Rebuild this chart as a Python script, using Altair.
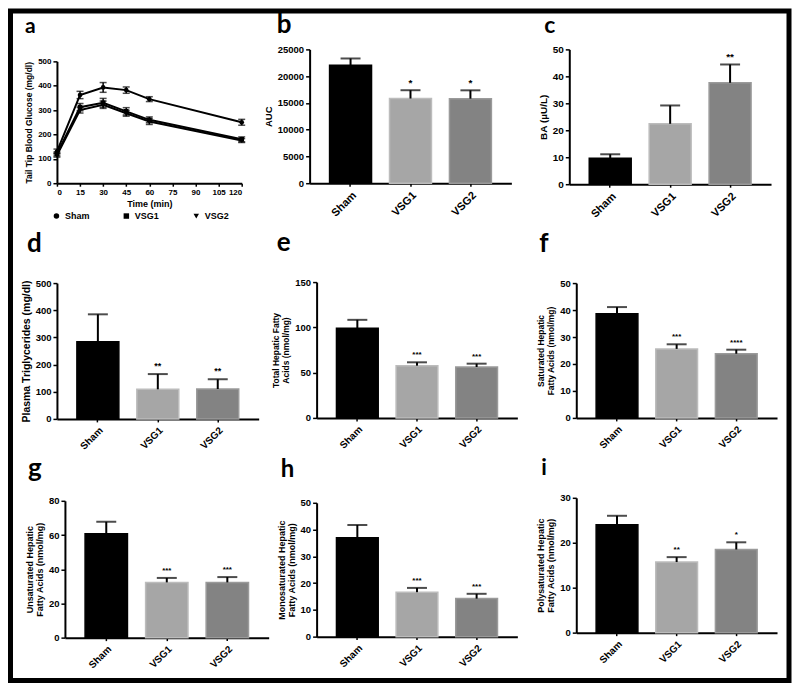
import altair as alt
import pandas as pd

# ---------------- data ----------------
groups = ["Sham", "VSG1", "VSG2"]

time_min = [0, 15, 30, 45, 60, 120]
glu_sham = [130, 362, 393, 382, 345, 250]
glu_sham_err = [10, 15, 20, 13, 10, 12]
glu_vsg1 = [120, 312, 330, 295, 260, 180]
glu_vsg1_err = [8, 15, 18, 15, 12, 10]
glu_vsg2 = [115, 300, 322, 287, 253, 175]
glu_vsg2_err = [8, 12, 15, 12, 12, 8]

auc_mean = [22050, 15820, 15800]
auc_err = [1250, 1550, 1550]
auc_sig = ["", "*", "*"]

ba_mean = [9.6, 22.4, 37.6]
ba_err = [1.5, 6.8, 6.8]
ba_sig = ["", "", "**"]

tg_mean = [284, 109, 110]
tg_err = [101, 56, 36]
tg_sig = ["", "**", "**"]

tfa_mean = [99.1, 57.7, 56.2]
tfa_err = [9.2, 3.7, 3.7]
tfa_sig = ["", "***", "***"]

sfa_mean = [38.6, 25.6, 23.8]
sfa_err = [2.5, 1.7, 1.5]
sfa_sig = ["", "***", "****"]

ufa_mean = [60.7, 32.3, 32.3]
ufa_err = [7.0, 2.6, 3.1]
ufa_sig = ["", "***", "***"]

mufa_mean = [36.9, 16.6, 14.2]
mufa_err = [4.8, 1.6, 1.8]
mufa_sig = ["", "***", "***"]

pufa_mean = [24.0, 15.7, 18.5]
pufa_err = [2.0, 1.1, 1.6]
pufa_sig = ["", "**", "*"]

panel_letters = ["a", "b", "c", "d", "e", "f", "g", "h", "i"]

# ---------------- styles / layout ----------------
FONT = "Liberation Sans"
LETTER_FONT = "Lato"
bar_fill = ["#000000", "#a6a6a6", "#838383"]
bar_edge = ["#000000", "#bcbcbc", "#9a9a9a"]
shapes = ["circle", "square", "triangle-down"]

CELL_W, CELL_H = 217, 160
COL_X = [50, 310, 570]
ROW_Y = [49, 264, 479]

# page geometry per panel: x0 (y-axis x), w (x-axis length), yt (top), yz (zero)
geo = {
    "a": dict(col=0, row=0, x0=57, w=185, yt=61, yz=183, lx=-25, ly=-16, ls=21),
    "b": dict(col=1, row=0, x0=310, w=202, yt=49, yz=183, lx=-33, ly=-16, ls=26),
    "c": dict(col=2, row=0, x0=570, w=202, yt=49, yz=184, lx=-25, ly=-16, ls=23),
    "d": dict(col=0, row=1, x0=57, w=202, yt=283, yz=419, lx=-23, ly=-12, ls=26),
    "e": dict(col=1, row=1, x0=317, w=201, yt=282, yz=418, lx=-33, ly=-13, ls=26),
    "f": dict(col=2, row=1, x0=577, w=201, yt=283, yz=418, lx=-30, ly=-12, ls=26),
    "g": dict(col=0, row=2, x0=65, w=204, yt=501, yz=638, lx=-22, ly=-2, ls=26),
    "h": dict(col=1, row=2, x0=317, w=201, yt=503, yz=637, lx=-29, ly=-2, ls=24),
    "i": dict(col=2, row=2, x0=577, w=201, yt=498, yz=633, lx=-28, ly=-4, ls=22),
}


def geom(key):
    g = geo[key]
    cx, cy = COL_X[g["col"]], ROW_Y[g["row"]]
    xr = [g["x0"] - cx, g["x0"] - cx + g["w"]]
    yr = [g["yz"] - cy, g["yt"] - cy]
    yoff = -(g["x0"] - cx)
    xoff = -(CELL_H - (g["yz"] - cy))
    return xr, yr, yoff, xoff


def letter_layer(key):
    g = geo[key]
    df = pd.DataFrame({"letter": [key]})
    return alt.Chart(df).mark_text(
        align="left", baseline="alphabetic", font=LETTER_FONT,
        fontWeight="bold", fontSize=g["ls"], color="black"
    ).encode(x=alt.value(g["lx"]), y=alt.value(g["ly"]), text="letter:N")


def bar_panel(key, mean, err, sig, ymax, ticks, title,
              lab=9.5, tit=9, xlab=10, star=8, star_dy=-5, title_lh=10):
    xr, yr, yoff, xoff = geom(key)
    df = pd.DataFrame({
        "group": groups,
        "mean": mean,
        "top": [m + e for m, e in zip(mean, err)],
        "sig": sig,
    })
    xenc = alt.X(
        "group:N", sort=groups,
        scale=alt.Scale(domain=groups, range=xr, paddingInner=0.3, paddingOuter=0.333),
        axis=alt.Axis(title=None, labelAngle=-45, labelFontSize=xlab, offset=xoff,
                      tickSize=3, labelPadding=3),
    )
    yscale = alt.Scale(domain=[0, ymax], range=yr, nice=False, zero=True)
    yaxis = alt.Axis(values=ticks, title=title, offset=yoff, labelFontSize=lab,
                     titleFontSize=tit, titleLineHeight=title_lh, format="d")
    base = alt.Chart(df)
    bars = base.mark_bar(strokeWidth=1.5).encode(
        x=xenc,
        y=alt.Y("mean:Q", scale=yscale, axis=yaxis, title=title),
        color=alt.Color("group:N", scale=alt.Scale(domain=groups, range=bar_fill), legend=None),
        stroke=alt.Stroke("group:N", scale=alt.Scale(domain=groups, range=bar_edge), legend=None),
    )
    rule = base.mark_rule(color="black", strokeWidth=2).encode(
        x=xenc,
        y=alt.Y("mean:Q", scale=yscale, axis=yaxis, title=title),
        y2="top:Q",
    )
    cap = base.mark_tick(orient="horizontal", color="black", size=20, thickness=2).encode(
        x=xenc,
        y=alt.Y("top:Q", scale=yscale, axis=yaxis, title=title),
    )
    stars = base.mark_text(baseline="alphabetic", dy=star_dy, fontSize=star,
                           font=FONT, fontWeight="bold", color="black").encode(
        x=xenc,
        y=alt.Y("top:Q", scale=yscale, axis=yaxis, title=title),
        text="sig:N",
    )
    return alt.layer(bars, rule, cap, stars, letter_layer(key)).properties(
        width=CELL_W, height=CELL_H)


# ---------------- panel a (line chart) ----------------
def line_panel():
    key = "a"
    xr, yr, yoff, xoff = geom(key)
    rows = []
    for grp, vals, errs in [("Sham", glu_sham, glu_sham_err),
                            ("VSG1", glu_vsg1, glu_vsg1_err),
                            ("VSG2", glu_vsg2, glu_vsg2_err)]:
        for t, v, e in zip(time_min, vals, errs):
            rows.append({"time": t, "group": grp, "mean": v, "lo": v - e, "hi": v + e})
    df = pd.DataFrame(rows)
    title = "Tail Tip Blood Glucose (mg/dl)"
    xenc = alt.X("time:Q",
                 scale=alt.Scale(domain=[0, 120], range=xr, nice=False),
                 axis=alt.Axis(values=time_min[:0] + [0, 15, 30, 45, 60, 75, 90, 105, 120],
                               title="Time (min)", offset=xoff, labelFontSize=8,
                               titleFontSize=9, tickSize=3, labelPadding=2, titlePadding=3))
    yscale = alt.Scale(domain=[0, 500], range=yr, nice=False)
    yaxis = alt.Axis(values=[0, 100, 200, 300, 400, 500], title=title, offset=yoff,
                     labelFontSize=8, titleFontSize=8.5, format="d")
    base = alt.Chart(df)
    err = base.mark_rule(color="black", strokeWidth=1.5).encode(
        x=xenc, y=alt.Y("lo:Q", scale=yscale, axis=yaxis, title=title), y2="hi:Q")
    cap_lo = base.mark_tick(orient="horizontal", color="black", size=7, thickness=1.5).encode(
        x=xenc, y=alt.Y("lo:Q", scale=yscale, axis=yaxis, title=title))
    cap_hi = base.mark_tick(orient="horizontal", color="black", size=7, thickness=1.5).encode(
        x=xenc, y=alt.Y("hi:Q", scale=yscale, axis=yaxis, title=title))
    line = base.mark_line(color="black", strokeWidth=2).encode(
        x=xenc, y=alt.Y("mean:Q", scale=yscale, axis=yaxis, title=title),
        detail="group:N")
    pts = base.mark_point(filled=True, color="black", size=22, opacity=1).encode(
        x=xenc, y=alt.Y("mean:Q", scale=yscale, axis=yaxis, title=title),
        shape=alt.Shape("group:N", sort=groups,
                        scale=alt.Scale(domain=groups, range=shapes),
                        legend=alt.Legend(title=None, orient="none", legendX=2, legendY=162,
                                          direction="horizontal", columnPadding=30,
                                          labelFont=FONT, labelFontWeight="bold",
                                          labelFontSize=9, symbolSize=30,
                                          symbolFillColor="black", symbolStrokeColor="black",
                                          labelColor="black")))
    border = alt.Chart(pd.DataFrame({"frame": [0]})).mark_rect(
        fillOpacity=0, stroke="black", strokeWidth=5
    ).encode(x=alt.value(-39.5), x2=alt.value(740), y=alt.value(-38.5), y2=alt.value(632))
    return alt.layer(err, cap_lo, cap_hi, line, pts, letter_layer(key), border).properties(
        width=CELL_W, height=CELL_H)


panels = [
    line_panel(),
    bar_panel("b", auc_mean, auc_err, auc_sig, 25000, [0, 5000, 10000, 15000, 20000, 25000],
              "AUC", lab=9.5, tit=9.5, xlab=11, star=10, star_dy=-4),
    bar_panel("c", ba_mean, ba_err, ba_sig, 50, [0, 10, 20, 30, 40, 50],
              "BA (µU/L)", lab=10, tit=10, xlab=11, star=10, star_dy=-4),
    bar_panel("d", tg_mean, tg_err, tg_sig, 500, [0, 100, 200, 300, 400, 500],
              "Plasma Triglycerides (mg/dl)", lab=9.5, tit=10.5, xlab=10, star=9),
    bar_panel("e", tfa_mean, tfa_err, tfa_sig, 150, [0, 50, 100, 150],
              ["Total Hepatic Fatty", "Acids (nmol/mg)"], lab=9.5, tit=8.5),
    bar_panel("f", sfa_mean, sfa_err, sfa_sig, 50, [0, 10, 20, 30, 40, 50],
              ["Saturated Hepatic", "Fatty Acids (nmol/mg)"], lab=9.5, tit=8.5),
    bar_panel("g", ufa_mean, ufa_err, ufa_sig, 80, [0, 20, 40, 60, 80],
              ["Unsaturated Hepatic", "Fatty Acids (nmol/mg)"], lab=9.5, tit=9),
    bar_panel("h", mufa_mean, mufa_err, mufa_sig, 50, [0, 10, 20, 30, 40, 50],
              ["Monosaturated Hepatic", "Fatty Acids (nmol/mg)"], lab=9.5, tit=9),
    bar_panel("i", pufa_mean, pufa_err, pufa_sig, 30, [0, 10, 20, 30],
              ["Polysaturated Hepatic", "Fatty Acids (nmol/mg)"], lab=9.5, tit=9),
]

chart = alt.concat(
    *panels, columns=3, spacing={"row": 55, "column": 43}, bounds="flush"
).resolve_scale(
    x="independent", y="independent", color="independent",
    stroke="independent", shape="independent"
).resolve_legend(
    color="independent", stroke="independent", shape="independent"
).properties(
    padding=0, background="white"
).configure_view(
    stroke=None
).configure_axis(
    grid=False, domainColor="black", domainWidth=2, tickColor="black", tickWidth=1.5,
    tickSize=4, labelFont=FONT, labelFontWeight="bold", labelColor="black",
    titleFont=FONT, titleFontWeight="bold", titleColor="black", labelPadding=2,
    titlePadding=4
)

chart.save("out.html", embed_options={"renderer": "svg", "actions": False})
